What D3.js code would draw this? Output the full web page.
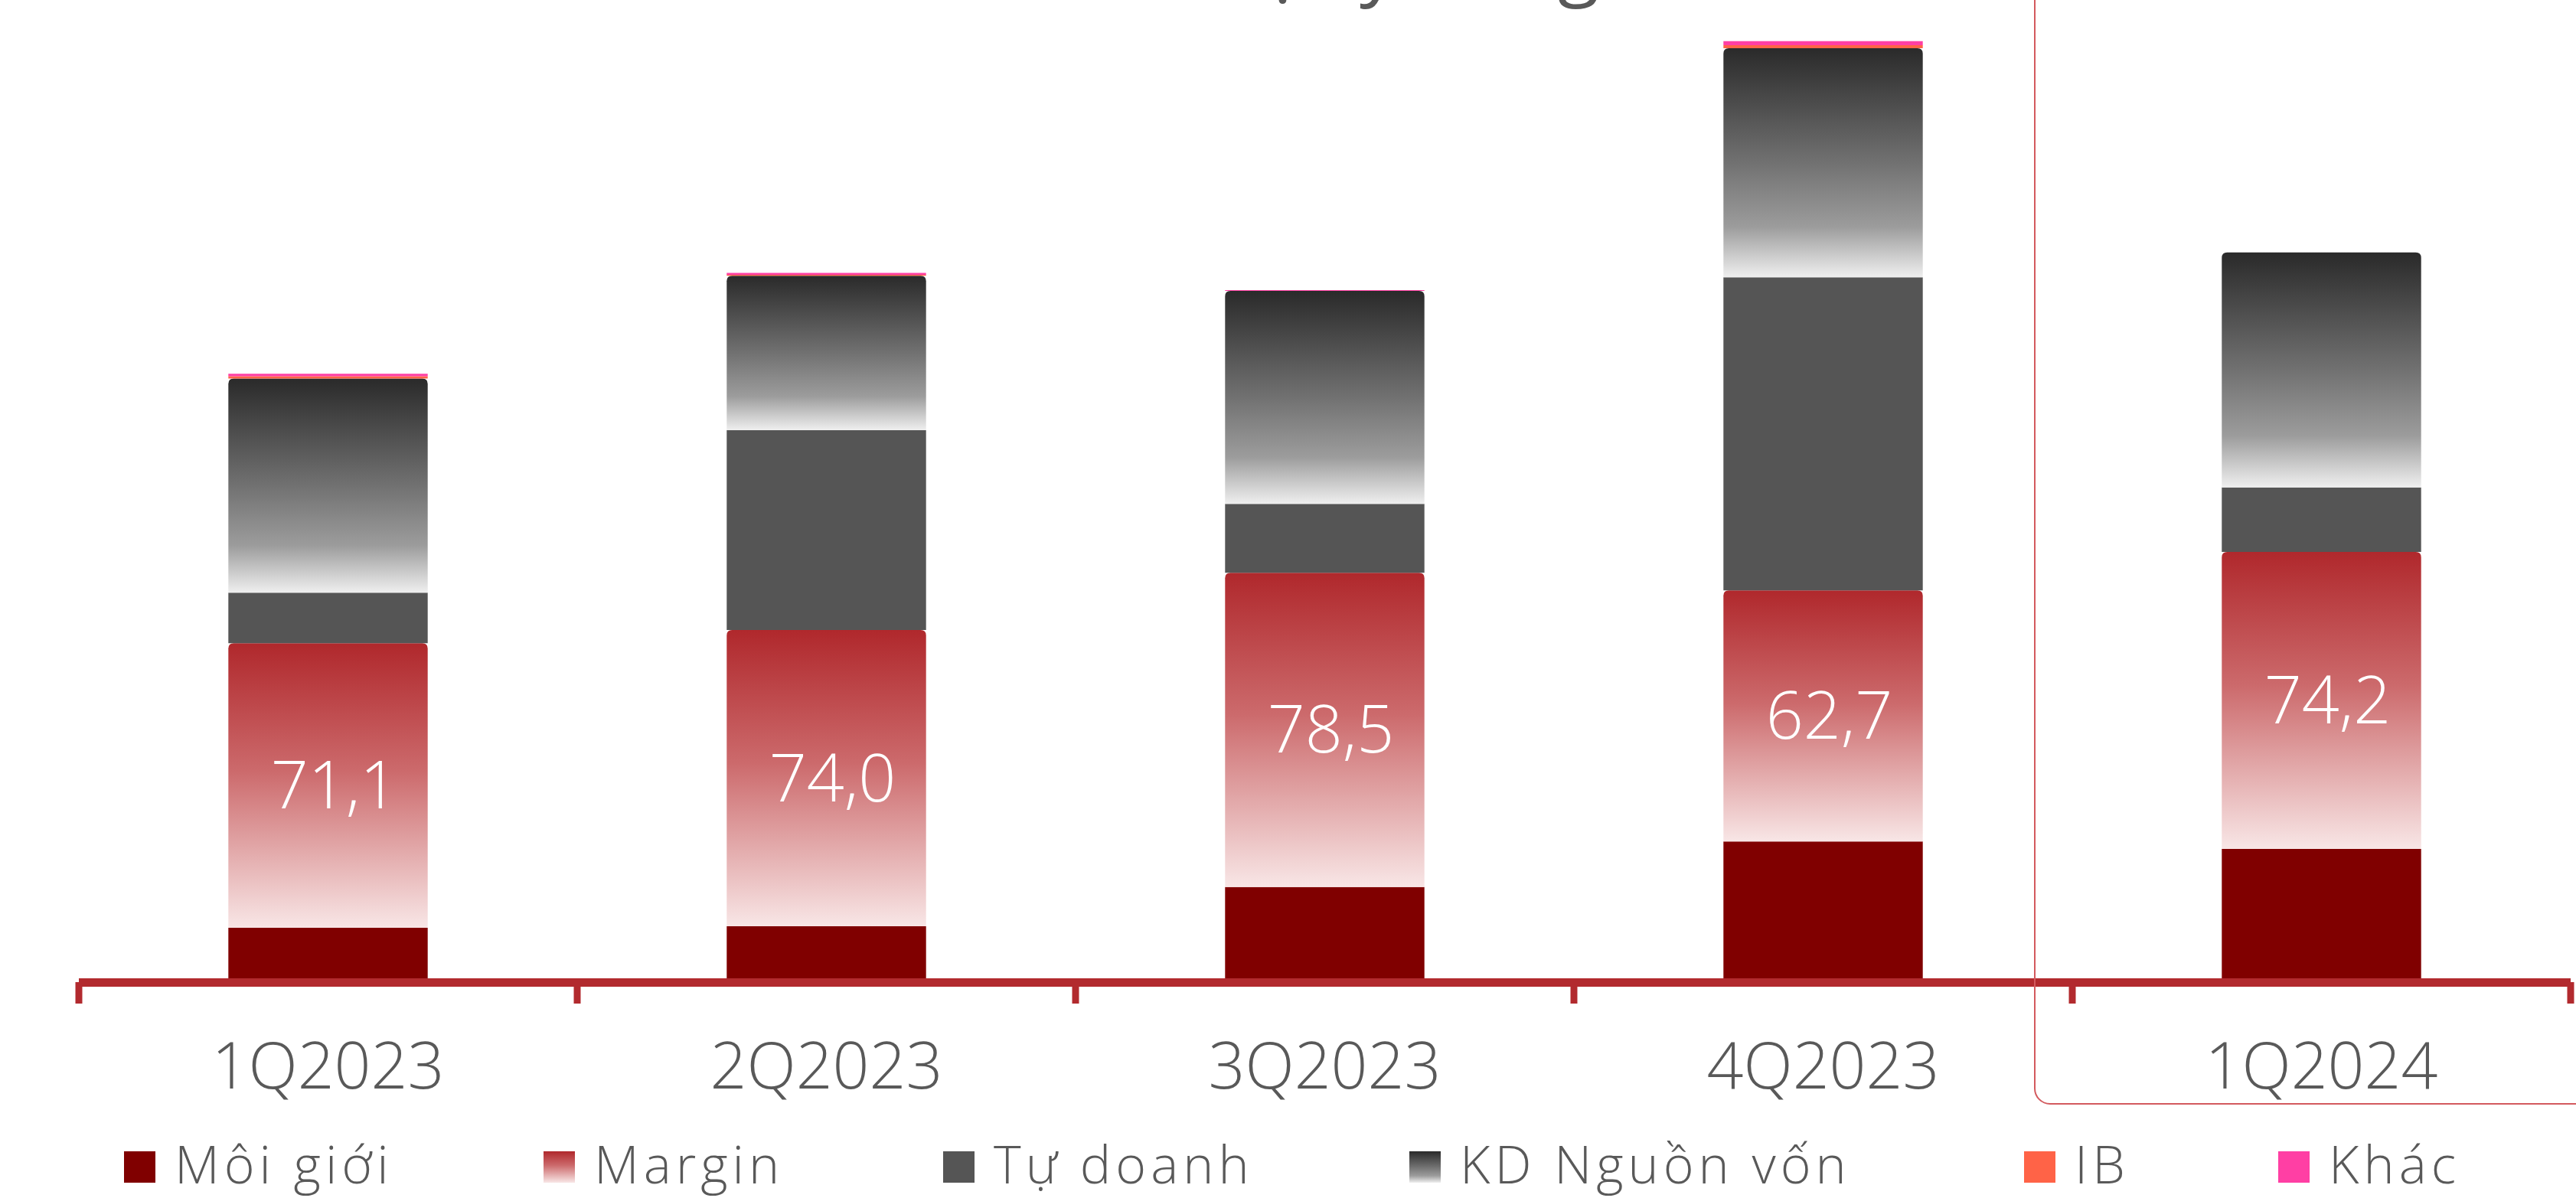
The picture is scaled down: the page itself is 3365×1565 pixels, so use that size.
<!DOCTYPE html>
<html>
<head>
<meta charset="utf-8">
<script src="https://cdn.jsdelivr.net/npm/d3@7"></script>
<style>
  html, body { margin: 0; padding: 0; background: #ffffff; overflow: hidden; }
  svg { display: block; }
</style>
</head>
<body>
<svg id="chart" width="3365" height="1565"></svg>
<script>
// ---------------- DATA ----------------
const categories = ["1Q2023", "2Q2023", "3Q2023", "4Q2023", "1Q2024"];
const moiGioi    = [12.6, 13.0, 22.8, 34.2, 32.3];
const marginVals = [71.1, 74.0, 78.5, 62.7, 74.2];
const tuDoanh    = [12.6, 49.9, 17.2, 78.2, 16.1];
const kdNguonVon = [53.5, 38.6, 53.2, 57.2, 58.7];
const ibVals     = [0.6, 0.2, 0.0, 0.8, 0.0];
const khacVals   = [0.6, 0.5, 0.2, 1.0, 0.0];
const seriesNames = ["Môi giới", "Margin", "Tự doanh", "KD Nguồn vốn", "IB", "Khác"];
const marginLabels = ["71,1", "74,0", "78,5", "62,7", "74,2"];
const titleText = "Đơn vị: tỷ đồng";

// ---------------- LAYOUT ----------------
const W = 3365, H = 1565;
const baseY = 1278, axisLeft = 103, axisRight = 3358;
const pxPerUnit = 5.23;
const font = "'Open Sans', 'Lato', sans-serif";
const textColor = "#595959";
const axisColor = "#b22a2e";

const svg = d3.select("#chart");
const defs = svg.append("defs");

const gMargin = defs.append("linearGradient").attr("id", "gradMargin")
  .attr("x1", 0).attr("y1", 0).attr("x2", 0).attr("y2", 1);
[[0, "#b0282c"], [0.45, "#cc6a6c"], [1, "#f8e6e6"]].forEach(s =>
  gMargin.append("stop").attr("offset", s[0]).attr("stop-color", s[1]));

const gKD = defs.append("linearGradient").attr("id", "gradKD")
  .attr("x1", 0).attr("y1", 0).attr("x2", 0).attr("y2", 1);
[[0, "#2a2a2a"], [0.5, "#717171"], [0.78, "#9c9c9c"], [1, "#efefef"]].forEach(s =>
  gKD.append("stop").attr("offset", s[0]).attr("stop-color", s[1]));

const fills = {
  "Môi giới": "#800000",
  "Margin": "url(#gradMargin)",
  "Tự doanh": "#555555",
  "KD Nguồn vốn": "url(#gradKD)",
  "IB": "#ff6347",
  "Khác": "#ff3fa4"
};
const rounded = { "Margin": true, "KD Nguồn vốn": true };

const table = categories.map((c, i) => ({
  cat: c,
  "Môi giới": moiGioi[i],
  "Margin": marginVals[i],
  "Tự doanh": tuDoanh[i],
  "KD Nguồn vốn": kdNguonVon[i],
  "IB": ibVals[i],
  "Khác": khacVals[i],
  label: marginLabels[i]
}));

const x = d3.scaleBand().domain(categories).range([axisLeft, axisRight])
  .paddingInner(0.6).paddingOuter(0.3);
const yMax = 240;
const y = d3.scaleLinear().domain([0, yMax]).range([baseY, baseY - yMax * pxPerUnit]);

const stack = d3.stack().keys(seriesNames);
const stacked = stack(table);

// title (mostly above the visible frame, as in the reference)
svg.append("text")
  .attr("x", (axisLeft + axisRight) / 2 + 10)
  .attr("y", -12)
  .attr("text-anchor", "middle")
  .attr("font-family", font)
  .attr("font-size", 100)
  .attr("fill", textColor)
  .text(titleText);

// axis line
const axisG = svg.append("g");
axisG.append("line")
  .attr("x1", axisLeft).attr("x2", axisRight)
  .attr("y1", baseY + 5.5).attr("y2", baseY + 5.5)
  .attr("stroke", axisColor).attr("stroke-width", 11);
const edges = categories.map(c => x(c) - x.step() * x.paddingInner() / 2)
  .concat([x(categories[categories.length - 1]) + x.bandwidth() + x.step() * x.paddingInner() / 2]);
axisG.selectAll("line.tick").data(edges).join("line")
  .attr("class", "tick")
  .attr("x1", d => d).attr("x2", d => d)
  .attr("y1", baseY + 5).attr("y2", baseY + 33)
  .attr("stroke", axisColor).attr("stroke-width", 9);

function topRoundedPath(x0, y0, w, h, r) {
  r = Math.min(r, h, w / 2);
  return `M${x0},${y0 + h} L${x0},${y0 + r} Q${x0},${y0} ${x0 + r},${y0} L${x0 + w - r},${y0} Q${x0 + w},${y0} ${x0 + w},${y0 + r} L${x0 + w},${y0 + h} Z`;
}

// bars
const layers = svg.append("g").selectAll("g").data(stacked).join("g")
  .attr("fill", d => fills[d.key]);
layers.each(function (layer) {
  const g = d3.select(this);
  g.selectAll("path").data(layer.filter(d => d[1] - d[0] > 0)).join("path")
    .attr("d", d => {
      const x0 = x(d.data.cat), w = x.bandwidth();
      const y0 = y(d[1]), h = y(d[0]) - y(d[1]);
      return topRoundedPath(x0, y0, w, h, rounded[layer.key] ? 7 : 0);
    });
});

// margin labels
const marginLayer = stacked.find(s => s.key === "Margin");
svg.append("g").selectAll("text").data(marginLayer).join("text")
  .attr("x", d => x(d.data.cat) + x.bandwidth() / 2 + 8)
  .attr("y", d => (y(d[0]) + y(d[1])) / 2 + 30)
  .attr("text-anchor", "middle")
  .attr("font-family", font)
  .attr("font-weight", 300)
  .attr("font-size", 86)
  .attr("fill", "#ffffff")
  .text(d => d.data.label);

// category labels
svg.append("g").selectAll("text").data(categories).join("text")
  .attr("x", d => x(d) + x.bandwidth() / 2)
  .attr("y", 1422)
  .attr("text-anchor", "middle")
  .attr("font-family", font)
  .attr("font-weight", 300)
  .attr("font-size", 84)
  .attr("fill", textColor)
  .text(d => d);

// highlight frame around 1Q2024
svg.append("rect")
  .attr("x", 2658).attr("y", -30)
  .attr("width", 800).attr("height", 1442 + 30)
  .attr("rx", 20).attr("ry", 20)
  .attr("fill", "none")
  .attr("stroke", "#d35a5e")
  .attr("stroke-width", 2);

// legend
const legendX = [162, 710, 1232, 1841, 2644, 2976];
const legendG = svg.append("g");
const items = legendG.selectAll("g").data(seriesNames).join("g")
  .attr("transform", (d, i) => `translate(${legendX[i]},1504)`);
items.append("rect")
  .attr("width", 41).attr("height", 41)
  .attr("fill", d => fills[d]);
items.append("text")
  .attr("x", 66).attr("y", 42)
  .attr("font-family", font)
  .attr("font-weight", 300)
  .attr("font-size", 68)
  .attr("letter-spacing", 6)
  .attr("fill", textColor)
  .text(d => d);
</script>
</body>
</html>
